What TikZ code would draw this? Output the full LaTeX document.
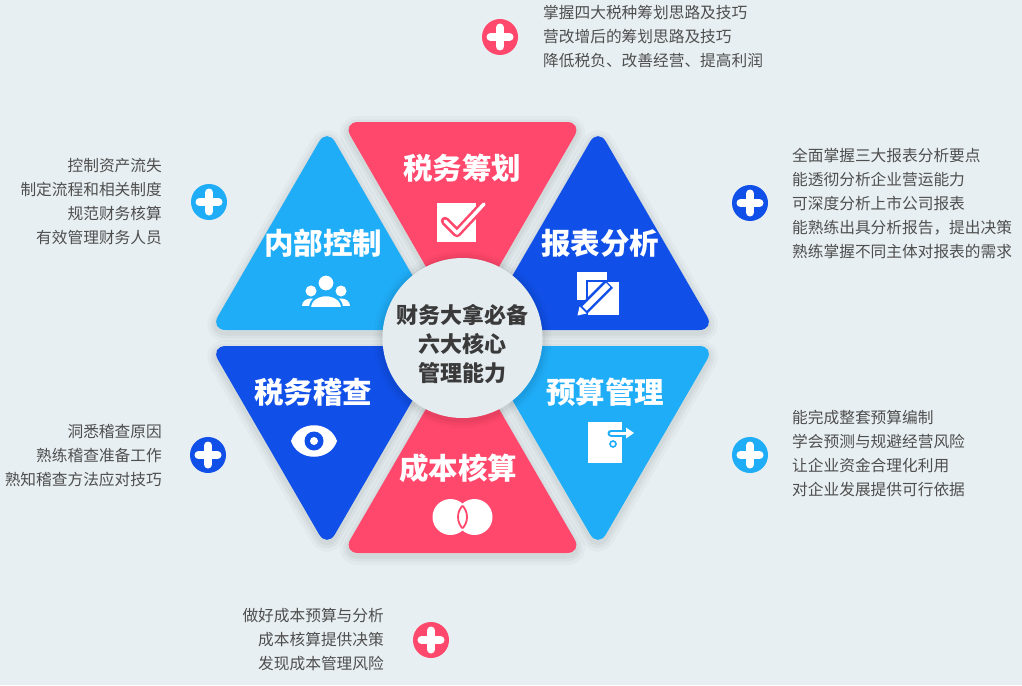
\documentclass[tikz,border=0pt]{standalone}
\usepackage{fontspec}
\setmainfont{Noto Sans CJK SC}
\definecolor{bg}{RGB}{232,239,242}
\definecolor{circfill}{RGB}{229,236,239}
\definecolor{pinkc}{RGB}{255,72,108}
\definecolor{lblue}{RGB}{31,173,247}
\definecolor{dblue}{RGB}{17,80,232}
\definecolor{txtgray}{RGB}{78,78,78}
\definecolor{ctext}{RGB}{58,58,58}
\newcommand\hexpart[4]{%
  \foreach \w/\o in {18/0.025,11/0.03,5/0.035}{%
    \draw[black,opacity=\o,line width=\w,rounded corners=16,line join=round,shift={(0,3)}] #2 -- #3 -- #4 -- cycle;}
  \fill[#1,rounded corners=16] #2 -- #3 -- #4 -- cycle;}
\begin{document}
\begin{tikzpicture}[x=1pt,y=-1pt,
  body/.style={text=txtgray, font=\fontsize{15.7}{24}\selectfont, inner sep=0},
  tlabel/.style={text=white, font=\fontsize{29.5}{31}\selectfont\bfseries, inner sep=0},
  plusnode/.style={circle, fill=#1, minimum size=36, inner sep=0, path picture={
     \draw[white, line width=8, line cap=round] ([xshift=-9.5pt]path picture bounding box.center) -- ([xshift=9.5pt]path picture bounding box.center);
     \draw[white, line width=8, line cap=round] ([yshift=-9.5pt]path picture bounding box.center) -- ([yshift=9.5pt]path picture bounding box.center);}},
]
\fill[bg] (0,0) rectangle (1022,685);
\useasboundingbox (0,0) rectangle (1022,685);

% six triangles
\hexpart{pinkc}{(342.5,122)}{(582.5,122)}{(462.5,330)}
\hexpart{lblue}{(327,128)}{(444,330)}{(210,330)}
\hexpart{dblue}{(598,128)}{(715,330)}{(481,330)}
\hexpart{dblue}{(210,346)}{(444,346)}{(327,548)}
\hexpart{lblue}{(481,346)}{(715,346)}{(598,548)}
\hexpart{pinkc}{(462.5,346)}{(582.5,553)}{(342.5,553)}

% centre disc
\foreach \r/\o in {89/0.02,86/0.03,83/0.04}{\fill[black,opacity=\o] (462.5,339.5) circle (\r);}
\fill[circfill] (462.5,338) circle (80);
\node[font=\fontsize{22}{29}\selectfont\bfseries, text=ctext, align=center, inner sep=0] (core) at (462,344) {财务大拿必备\\六大核心\\管理能力};

% labels
\node[tlabel] (l1) at (462,168) {税务筹划};
\node[tlabel] (l2) at (323,243) {内部控制};
\node[tlabel] (l3) at (600,243) {报表分析};
\node[tlabel] (l4) at (313,392) {税务稽查};
\node[tlabel] (l5) at (605,392) {预算管理};
\node[tlabel] (l6) at (458,468) {成本核算};

% icon: checkbox
\fill[white] (437,203) rectangle (476,242);
\draw[pinkc, line width=8.5, line cap=round, line join=round] (445,221) -- (457,233) -- (484,204);
\draw[white, line width=3.5, line cap=round, line join=round] (445,221) -- (457,233) -- (484,204);

% icon: people
\fill[white] (311,291) circle (5.5);
\fill[white] (341,291) circle (5.5);
\fill[white] (302,306) .. controls (302,296) and (320,296) .. (320,306) -- cycle;
\fill[white] (332,306) .. controls (332,296) and (350,296) .. (350,306) -- cycle;
\draw[lblue, line width=2, fill=white] (326,283) circle (8.5);
\draw[lblue, line width=2, fill=white] (310,308) .. controls (310,291) and (342,291) .. (342,308) -- cycle;

% icon: documents and pencil
\fill[white] (577,272) rectangle (607,300);
\draw[dblue, line width=1.5, fill=white] (587,281) rectangle (620,316);
\draw[dblue, line width=11] (583,310) -- (609,284);
\draw[white, line width=6] (584.5,308.5) -- (608,285);
\fill[white] (577.5,315.5) -- (579.5,306.5) -- (586.5,313.5) -- cycle;

% icon: eye
\fill[white] (291,441) .. controls (298,420) and (330,420) .. (337,441) .. controls (330,462) and (298,462) .. (291,441) -- cycle;
\fill[dblue] (314,441) circle (9.5);
\fill[white] (314,441) circle (4);

% icon: door
\fill[white] (588,422) rectangle (622,463);
\draw[lblue, line width=7, line cap=round] (611,433) -- (626,433);
\draw[white, line width=3, line cap=round] (611,433) -- (627,433);
\fill[white] (626,427.5) -- (634,433) -- (626,438.5) -- cycle;
\draw[lblue, line width=1.6] (613,444) circle (3);

% icon: overlapping circles
\fill[white] (450.5,517) circle (18);
\fill[white] (474.5,517) circle (18);
\begin{scope}\clip (450.5,517) circle (16.5); \draw[pinkc, line width=1.8] (474.5,517) circle (16.5);\end{scope}
\begin{scope}\clip (474.5,517) circle (16.5); \draw[pinkc, line width=1.8] (450.5,517) circle (16.5);\end{scope}

% plus icons
\node[plusnode=pinkc] (p1) at (500,37) {};
\node[plusnode=lblue] (p2) at (209,202) {};
\node[plusnode=dblue] (p3) at (750,203) {};
\node[plusnode=dblue] (p4) at (208,455) {};
\node[plusnode=lblue] (p5) at (750,455) {};
\node[plusnode=pinkc] (p6) at (431,640) {};

% text blocks
\node[body, anchor=west, align=left] (t1) at (543,37) {掌握四大税种筹划思路及技巧\\营改增后的筹划思路及技巧\\降低税负、改善经营、提高利润};
\node[body, anchor=east, align=right] (t2) at (162,202) {控制资产流失\\制定流程和相关制度\\规范财务核算\\有效管理财务人员};
\node[body, anchor=west, align=left] (t3) at (792,203) {全面掌握三大报表分析要点\\能透彻分析企业营运能力\\可深度分析上市公司报表\\能熟练出具分析报告，提出决策\\熟练掌握不同主体对报表的需求};
\node[body, anchor=east, align=right] (t4) at (162,456) {洞悉稽查原因\\熟练稽查准备工作\\熟知稽查方法应对技巧};
\node[body, anchor=west, align=left] (t5) at (792,453) {能完成整套预算编制\\学会预测与规避经营风险\\让企业资金合理化利用\\对企业发展提供可行依据};
\node[body, anchor=east, align=right] (t6) at (384,640) {做好成本预算与分析\\成本核算提供决策\\发现成本管理风险};
\end{tikzpicture}
\end{document}
